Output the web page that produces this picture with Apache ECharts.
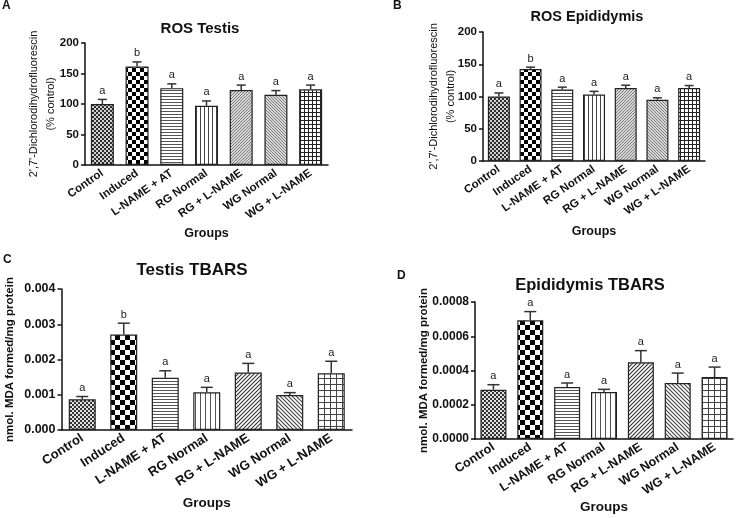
<!DOCTYPE html>
<html>
<head>
<meta charset="utf-8">
<script src="https://cdn.jsdelivr.net/npm/echarts@6/dist/echarts.min.js"></script>
<style>
html,body{margin:0;padding:0;background:#fff;}
#chart{width:740px;height:518px;}
</style>
</head>
<body>
<div id="chart"></div>
<script>
// ---------- DATA ----------
const categories = ['Control', 'Induced', 'L-NAME + AT', 'RG Normal', 'RG + L-NAME', 'WG Normal', 'WG + L-NAME'];

const rosTestisMean = [100, 161.5, 126, 97, 123, 115, 124];
const rosTestisSem = [7.5, 7.5, 7, 8, 8, 7, 7];
const rosTestisLetters = ['a', 'b', 'a', 'a', 'a', 'a', 'a'];

const rosEpiMean = [100, 142.5, 111, 103, 113, 95, 113];
const rosEpiSem = [5.5, 3, 3.5, 5, 4.5, 3, 4];
const rosEpiLetters = ['a', 'b', 'a', 'a', 'a', 'a', 'a'];

const tbarsTestisMean = [0.00087, 0.00271, 0.00148, 0.00107, 0.00163, 0.00099, 0.00161];
const tbarsTestisSem = [0.00008, 0.00032, 0.0002, 0.00014, 0.00026, 0.00007, 0.00034];
const tbarsTestisLetters = ['a', 'b', 'a', 'a', 'a', 'a', 'a'];

const tbarsEpiMean = [0.000288, 0.000693, 0.000304, 0.000274, 0.000448, 0.000327, 0.000362];
const tbarsEpiSem = [0.000029, 0.000051, 0.000023, 0.000016, 0.000068, 0.000058, 0.000058];
const tbarsEpiLetters = ['a', 'a', 'a', 'a', 'a', 'a', 'a'];

const panelTitles = ['ROS Testis', 'ROS Epididymis', 'Testis TBARS', 'Epididymis TBARS'];
const panelLetters = ['A', 'B', 'C', 'D'];
const rosAxisName = "2',7'-Dichlorodihydrofluorescin\n(% control)";
const tbarsAxisName = 'nmol. MDA formed/mg protein';
const xAxisName = 'Groups';

// ---------- PATTERNS ----------
function mk(w, h, draw) {
  const c = document.createElement('canvas');
  c.width = w; c.height = h;
  const g = c.getContext('2d');
  g.fillStyle = '#fff'; g.fillRect(0, 0, w, h);
  draw(g);
  return { image: c, repeat: 'repeat' };
}
function checker(s, dark, light) {
  return mk(2 * s, 2 * s, g => {
    g.fillStyle = light; g.fillRect(0, 0, 2 * s, 2 * s);
    g.fillStyle = dark; g.fillRect(0, 0, s, s); g.fillRect(s, s, s, s);
  });
}
function hlines(p, col) {
  return mk(4, p, g => { g.fillStyle = col; g.fillRect(0, 0, 4, 1); });
}
function vlines(p, col) {
  return mk(p, 4, g => { g.fillStyle = col; g.fillRect(0, 0, 1, 4); });
}
function diag(p, col, dir) {
  return mk(p, p, g => {
    g.strokeStyle = col; g.lineWidth = 1.1;
    g.beginPath();
    if (dir > 0) {
      g.moveTo(-1, p + 1); g.lineTo(p + 1, -1);
      g.moveTo(-1, 1); g.lineTo(1, -1);
      g.moveTo(p - 1, p + 1); g.lineTo(p + 1, p - 1);
    } else {
      g.moveTo(-1, -1); g.lineTo(p + 1, p + 1);
      g.moveTo(-1, p - 1); g.lineTo(1, p + 1);
      g.moveTo(p - 1, -1); g.lineTo(p + 1, 1);
    }
    g.stroke();
  });
}
function grid(p, col) {
  return mk(p, p, g => { g.fillStyle = col; g.fillRect(0, 0, p, 1); g.fillRect(0, 0, 1, p); });
}
const patternsSmall = [
  checker(2, '#2e2e2e', '#d0d0d0'),
  checker(4, '#000', '#fff'),
  hlines(3, '#555'),
  vlines(4, '#444'),
  diag(3, '#777', 1),
  diag(3, '#777', -1),
  grid(4, '#222')
];
const patternsLarge = [
  checker(2, '#333', '#e0e0e0'),
  checker(5, '#000', '#fff'),
  hlines(3, '#555'),
  vlines(5, '#555'),
  diag(4, '#333', 1),
  diag(4, '#444', -1),
  grid(6, '#444')
];

// ---------- LAYOUT ----------
const panels = [
  { mean: rosTestisMean, sem: rosTestisSem, letters: rosTestisLetters, grid: { left: 85, top: 43, width: 243, height: 122 },
    max: 200, interval: 50, dec: 0, barWidth: 23, cap: 9, pats: patternsSmall, yName: rosAxisName, yNameBold: 'normal', yNameSize: 11, yGap: 26,
    yFont: 11.5, xGap: 62, xFont: 11.5, xNameSize: 12.5, rot: 35, title: { x: 195, y: 16, size: 15 }, letter: { x: 2, y: 0 } },
  { mean: rosEpiMean, sem: rosEpiSem, letters: rosEpiLetters, grid: { left: 483, top: 32, width: 222, height: 129 },
    max: 200, interval: 50, dec: 0, barWidth: 22, cap: 9, pats: patternsSmall, yName: rosAxisName, yNameBold: 'normal', yNameSize: 11, yGap: 24,
    yFont: 11.5, xGap: 64, xFont: 11.5, xNameSize: 12.5, rot: 35, title: { x: 582, y: 4, size: 14.5 }, letter: { x: 393, y: 0 } },
  { mean: tbarsTestisMean, sem: tbarsTestisSem, letters: tbarsTestisLetters, grid: { left: 60, top: 289, width: 292, height: 141 },
    max: 0.004, interval: 0.001, dec: 3, barWidth: 27, cap: 12, pats: patternsLarge, yName: tbarsAxisName, yNameBold: 'bold', yNameSize: 11.5, yGap: 43,
    yFont: 12.5, xGap: 66, xFont: 13, xNameSize: 13.5, rot: 33, title: { x: 187, y: 257, size: 17 }, letter: { x: 3, y: 254 } },
  { mean: tbarsEpiMean, sem: tbarsEpiSem, letters: tbarsEpiLetters, grid: { left: 475, top: 302, width: 258, height: 137 },
    max: 0.0008, interval: 0.0002, dec: 4, barWidth: 26, cap: 12, pats: patternsLarge, yName: tbarsAxisName, yNameBold: 'bold', yNameSize: 11.5, yGap: 42,
    yFont: 12, xGap: 55, xFont: 12.5, xNameSize: 13.5, rot: 33, title: { x: 585, y: 272, size: 16.5 }, letter: { x: 397, y: 270 } }
];

const FONT = '"Liberation Sans", Arial, sans-serif';
const option = {
  animation: false,
  backgroundColor: '#fff',
  title: [], grid: [], xAxis: [], yAxis: [], series: [], graphic: []
};

panels.forEach((p, k) => {
  option.grid.push(p.grid);
  option.title.push({
    text: panelTitles[k], left: p.title.x, top: p.title.y, textAlign: 'center',
    textStyle: { fontFamily: FONT, fontSize: p.title.size, fontWeight: 'bold', color: '#111' }
  });
  option.graphic.push({
    type: 'text', left: p.letter.x, top: p.letter.y,
    style: { text: panelLetters[k], font: 'bold 12px ' + FONT, fill: '#111' }
  });
  option.xAxis.push({
    type: 'category', gridIndex: k, data: categories, boundaryGap: true,
    name: xAxisName, nameLocation: 'middle', nameGap: p.xGap,
    nameTextStyle: { fontFamily: FONT, fontSize: p.xNameSize, fontWeight: 'bold', color: '#111' },
    axisLine: { lineStyle: { color: '#111', width: 1.5 } },
    axisTick: { alignWithLabel: true, length: 4, lineStyle: { color: '#111', width: 1.5 } },
    axisLabel: { interval: 0, rotate: p.rot, margin: 7, fontFamily: FONT, fontSize: p.xFont, fontWeight: 'bold', color: '#111' },
    splitLine: { show: false }
  });
  option.yAxis.push({
    type: 'value', gridIndex: k, min: 0, max: p.max, interval: p.interval,
    name: p.yName, nameLocation: 'middle', nameGap: p.yGap, nameRotate: 90, nameMoveOverlap: false,
    nameTextStyle: { fontFamily: FONT, fontSize: p.yNameSize, fontWeight: p.yNameBold, color: '#111', lineHeight: p.yNameSize + 6 },
    axisLine: { show: true, lineStyle: { color: '#111', width: 1.5 } },
    axisTick: { show: true, length: 4, lineStyle: { color: '#111', width: 1.5 } },
    axisLabel: { margin: 6, fontFamily: FONT, fontSize: p.yFont, fontWeight: 'bold', color: '#111',
      formatter: v => v.toFixed(p.dec) },
    splitLine: { show: false }
  });
  option.series.push({
    type: 'bar', xAxisIndex: k, yAxisIndex: k, barWidth: p.barWidth,
    data: p.mean.map((v, i) => ({ value: v, itemStyle: { color: p.pats[i] } })),
    itemStyle: { borderColor: '#222', borderWidth: 1.2 }
  });
  option.series.push({
    type: 'custom', xAxisIndex: k, yAxisIndex: k, z: 5,
    data: p.mean.map((v, i) => [i, v, v + p.sem[i]]),
    renderItem: (params, api) => {
      const b = api.coord([api.value(0), api.value(1)]);
      const t = api.coord([api.value(0), api.value(2)]);
      const h = p.cap / 2;
      return {
        type: 'group',
        children: [
          { type: 'line', shape: { x1: b[0], y1: b[1], x2: t[0], y2: t[1] }, style: { stroke: '#333', lineWidth: 1.5 } },
          { type: 'line', shape: { x1: t[0] - h, y1: t[1], x2: t[0] + h, y2: t[1] }, style: { stroke: '#333', lineWidth: 1.5 } },
          { type: 'text', x: t[0], y: t[1] - 3, style: { text: p.letters[params.dataIndex], font: '11px ' + FONT, fill: '#222', textAlign: 'center', textVerticalAlign: 'bottom' } }
        ]
      };
    }
  });
});

const chart = echarts.init(document.getElementById('chart'), null, { renderer: 'canvas' });
chart.setOption(option);
</script>
</body>
</html>
